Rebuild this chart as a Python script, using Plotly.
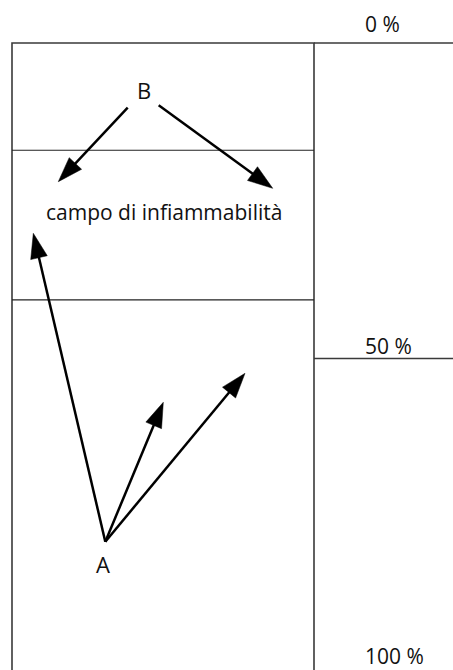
import plotly.graph_objects as go

# ---- data (x in pixel-like units across the column, y in % concentration) ----
box_x = [12, 314]                      # column left / right
scale_x_end = 453                      # right end of scale ticks
levels = [0, 50, 100]                  # percent scale
level_labels = ["0 %", "50 %", "100 %"]
flam_limits = [17.0, 40.7]             # lower / upper flammability lines (%)
zone_label = "campo di infiammabilità"
zone_pos = (164, 26.8)

B_pos = (144, 7.45)
B_arrows = [((127.7, 10.25), (58.3, 21.98)),
            ((158.7, 9.87), (272.7, 23.03))]
A_pos = (103, 82.6)
A_origin = (105.3, 79.03)
A_tips = [(33.3, 30.16), (163.3, 56.94), (245.0, 52.35)]

# ---- geometry helpers (page pixels) ----
W, H = 453, 670
PX_PER_PCT = 6.31
TOP_PX = 43.0
y_top = -TOP_PX / PX_PER_PCT
y_bot = (H - TOP_PX) / PX_PER_PCT


def to_px(y):
    return TOP_PX + y * PX_PER_PCT


def from_px(p):
    return (p - TOP_PX) / PX_PER_PCT


def to_paper(y):
    return (H - to_px(y)) / H


FAM = "Open Sans, Noto Sans, sans-serif"
BOX = dict(color="#3a3a3a", width=1.6)

fig = go.Figure()


def add_line(xs, ys, line):
    fig.add_trace(go.Scatter(x=xs, y=ys, mode="lines", line=line,
                             hoverinfo="skip", showlegend=False))


# column outline (top, left, right), scale ticks
add_line([box_x[0], box_x[0], box_x[1], box_x[1]],
         [y_bot + 5, levels[0], levels[0], y_bot + 5], BOX)
add_line([box_x[1], scale_x_end + 5], [levels[0], levels[0]], BOX)
add_line([box_x[1], scale_x_end + 5], [levels[1], levels[1]], BOX)
for f in flam_limits:
    add_line([box_x[0], box_x[1]], [f, f], dict(color="#222222", width=1.2))


def arrow(p0, p1, L=25.0, hw=8.5):
    x0, y0 = p0[0], to_px(p0[1])
    x1, y1 = p1[0], to_px(p1[1])
    dx, dy = x1 - x0, y1 - y0
    n = (dx * dx + dy * dy) ** 0.5
    ux, uy = dx / n, dy / n
    bx, by = x1 - ux * L, y1 - uy * L
    add_line([x0, bx + ux * 2], [from_px(y0), from_px(by + uy * 2)],
             dict(color="black", width=2.5))
    tx = [x1, bx - uy * hw, bx + uy * hw, x1]
    ty = [y1, by + ux * hw, by - ux * hw, y1]
    fig.add_trace(go.Scatter(x=tx, y=[from_px(v) for v in ty], mode="lines",
                             fill="toself", fillcolor="black",
                             line=dict(color="black", width=0.5),
                             hoverinfo="skip", showlegend=False))


for t0, t1 in B_arrows:
    arrow(t0, t1)
for tip in A_tips:
    arrow(A_origin, tip)

# texts
label_shift = [19, 13, 18]
for lv, lab, sh in zip(levels, level_labels, label_shift):
    fig.add_annotation(x=363, y=to_paper(lv), yref="paper", text=lab,
                       showarrow=False, xanchor="left", yanchor="middle",
                       yshift=sh, font=dict(family=FAM, size=21, color="#111111"))
fig.add_annotation(x=zone_pos[0], y=zone_pos[1], text=zone_label, showarrow=False,
                   font=dict(family=FAM, size=21, color="#111111"))
for (px_, py_), t in ((B_pos, "B"), (A_pos, "A")):
    fig.add_annotation(x=px_, y=py_, text=t, showarrow=False,
                       font=dict(family=FAM, size=22, color="#111111"))

fig.update_layout(width=W, height=H, margin=dict(l=0, r=0, t=0, b=0),
                  paper_bgcolor="white", plot_bgcolor="white")
fig.update_xaxes(range=[0, W], visible=False, fixedrange=True)
fig.update_yaxes(range=[y_bot, y_top], visible=False, fixedrange=True)

fig.write_html("out.html", config=dict(displayModeBar=False),
               post_script="document.body.style.margin='0';"
                           "document.body.style.overflow='hidden';")
